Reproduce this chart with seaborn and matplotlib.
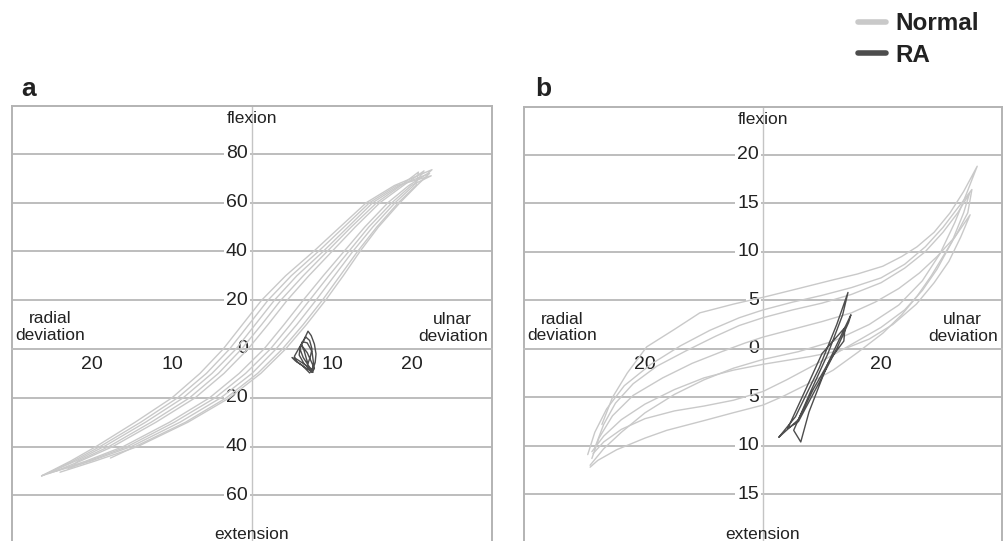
import pandas as pd
import matplotlib.pyplot as plt
import seaborn as sns
from matplotlib.lines import Line2D

# ---- panel a : flexion/extension vs radial/ulnar deviation ----
a_normal_x = [
    [-26.3, -22.7, -19.5, -14.6, -10.0, -6.5, -3.6, -1.2, 1.2, 4.2, 7.7, 11.0, 14.3, 17.8, 22.5,
     22.0, 19.6, 17.0, 14.1, 11.5, 8.9, 6.4, 4.0, 1.5, -1.6, -5.3, -10.3, -16.1, -20.8, -26.3],
    [-26.3, -22.1, -18.5, -13.3, -8.6, -5.0, -2.0, 0.4, 2.8, 5.6, 8.9, 12.0, 15.1, 18.4, 22.2,
     20.6, 18.5, 15.8, 13.5, 11.4, 9.2, 6.8, 4.2, 1.1, -2.8, -8.0, -14.3, -19.7, -24.0],
    [-24.5, -21.5, -17.4, -12.0, -7.1, -3.5, -0.5, 2.0, 4.4, 7.1, 10.0, 12.9, 16.0, 18.9, 21.5,
     20.2, 17.9, 15.1, 12.6, 10.3, 8.0, 5.6, 3.0, 0.0, -3.9, -9.0, -15.1, -20.2, -25.5],
    [-25.5, -22.4, -19.0, -13.9, -9.3, -5.7, -2.8, -0.4, 2.0, 4.9, 8.3, 11.5, 14.7, 18.1, 22.4,
     19.9, 17.5, 14.6, 12.1, 9.6, 7.2, 4.8, 2.3, -0.8, -4.6, -9.7, -15.6, -20.5, -23.0],
    [-22.5, -21.8, -17.9, -12.6, -7.8, -4.2, -1.3, 1.2, 3.6, 6.4, 9.4, 12.4, 15.6, 18.6, 20.8,
     20.5, 18.3, 15.6, 13.2, 11.0, 8.8, 6.4, 3.8, 0.7, -3.2, -8.3, -14.6, -17.7],
]
a_normal_y = [
    [-52, -46, -40, -30, -20, -10, 0, 10, 20, 30, 40, 50, 60, 67, 73.5,
     72, 67, 60, 50, 40, 30, 20, 10, 0, -10, -20, -30, -40, -46, -52],
    [-52, -46, -40, -30, -20, -10, 0, 10, 20, 30, 40, 50, 60, 67, 72,
     67, 60, 50, 40, 30, 20, 10, 0, -10, -20, -30, -40, -46, -50.5],
    [-50, -46, -40, -30, -20, -10, 0, 10, 20, 30, 40, 50, 60, 67, 73,
     67, 60, 50, 40, 30, 20, 10, 0, -10, -20, -30, -40, -46, -51],
    [-51, -46, -40, -30, -20, -10, 0, 10, 20, 30, 40, 50, 60, 67, 71,
     67, 60, 50, 40, 30, 20, 10, 0, -10, -20, -30, -40, -46, -49],
    [-48.5, -46, -40, -30, -20, -10, 0, 10, 20, 30, 40, 50, 60, 67, 72.5,
     67, 60, 50, 40, 30, 20, 10, 0, -10, -20, -30, -40, -44.7],
]
a_ra_x = [7.6, 6.6, 5.6, 5.3, 5.9, 6.6, 7.0, 7.4, 7.8, 8.0, 7.9, 7.6, 7.2, 6.3, 5.4, 5.0,
          5.6, 6.8, 7.5, 7.7, 7.5, 6.9, 6.3, 6.0, 6.4, 7.1, 7.6,
          6.5, 5.9, 6.0, 6.4, 6.7, 7.2, 7.5, 7.3, 7.0, 6.8, 6.5, 6.2, 6.9, 7.8, 7.5]
a_ra_y = [-9.5, -7.5, -5.2, -3.0, 0.5, 4.5, 7.3, 5.5, 2.0, -2.0, -5.5, -8.5, -9.8, -6.8, -4.8, -3.5,
          -4.2, -6.8, -8.5, -6.0, -1.0, 2.5, 3.0, 0.0, -3.5, -7.0, -9.5,
          -6.0, -2.5, 0.5, 3.0, 5.0, 3.5, 0.0, -3.0, -6.0, -4.0, -0.5, 1.5, -1.5, -8.0, -9.6]

# ---- panel b ----
b_normal_x = [
    [-27.3, -25.5, -23, -19.7, -15, -10.7, -5, 0.7, 6, 11.9, 16, 20.3, 23.5, 26.1, 29, 31.7, 34, 36.3,
     34.5, 32.5, 30, 27, 23, 18, 12, 6, 0, -5, -10, -15, -20, -24, -27, -29.3],
    [-29.7, -28.5, -26.5, -23.5, -19, -14, -9, -4, 0, 5, 10, 15, 20, 24, 27.5, 30.5, 33, 35.4,
     34.7, 32.8, 30.5, 28.5, 26.1, 23.5, 20.3, 16, 11.9, 8, 3.4, 0, -5.1, -10, -16.3, -20, -24.8, -28, -29.3],
    [-28.5, -27, -25, -22, -18, -13, -8, -4, 0, 5, 10, 15, 20, 24, 27.5, 30.5, 33, 35.0,
     34, 32, 29.5, 27, 24, 20, 16, 12, 8, 4, 0, -5, -10, -15, -20, -24, -27, -28.8],
    [-29.0, -27.8, -25.5, -22, -17, -12, -7, -3, 0, 5, 10, 15, 19, 23, 26.5, 29.5, 32.5, 35.1,
     33.5, 31.5, 29, 26, 22, 18, 13, 8, 4, 0, -5, -10, -15, -20, -24, -27, -29.0],
]
b_normal_y = [
    [-7.8, -5.0, -2.5, 0.2, 2.0, 3.7, 4.6, 5.4, 6.2, 7.1, 7.7, 8.5, 9.5, 10.5, 12.0, 14.0, 16.2, 18.8,
     16.0, 13.0, 9.8, 7.0, 4.5, 2.5, 0.8, -0.3, -1.1, -2.0, -3.2, -4.7, -6.6, -8.6, -10.3, -12.0],
    [-10.9, -8.6, -6.2, -3.8, -1.6, 0.3, 1.9, 3.2, 4.0, 4.8, 5.5, 6.3, 7.3, 8.7, 10.5, 12.5, 14.5, 16.4,
     14.0, 11.8, 9.5, 7.5, 5.4, 3.5, 1.6, -0.4, -2.2, -3.5, -4.9, -5.8, -6.6, -7.4, -8.4, -9.2, -10.4, -11.5, -12.2],
    [-10.2, -7.8, -5.6, -3.6, -1.8, -0.2, 1.3, 2.4, 3.2, 4.0, 4.7, 5.6, 6.8, 8.3, 10.0, 12.0, 14.0, 16.0,
     14.0, 11.0, 8.2, 6.0, 4.0, 2.2, 0.8, -0.6, -1.9, -3.2, -4.4, -5.3, -5.9, -6.4, -7.2, -8.3, -9.6, -10.8],
    [-11.3, -9.2, -6.9, -4.8, -3.0, -1.5, -0.3, 0.6, 1.2, 2.0, 2.8, 3.7, 4.8, 6.2, 7.8, 9.5, 11.5, 13.8,
     11.5, 9.0, 6.8, 4.6, 2.5, 1.0, -0.2, -0.8, -1.2, -1.6, -2.2, -3.0, -4.2, -5.7, -7.3, -9.0, -10.6],
]
b_ra_x = [2.7, 5.5, 9.5, 12.5, 14.4, 13.5, 11, 8, 5.2, 6.4, 7.8, 11, 14.9, 14.5, 12.5, 9.5, 6.0, 4.2,
          7.0, 10, 13.9, 13.7, 11.5, 8.5, 6.0, 3.8, 2.7]
b_ra_y = [-9.1, -7.0, -2.0, 2.5, 5.8, 3.5, -0.5, -4.5, -8.4, -9.6, -6.5, -1.5, 3.5, 2.7, 0, -3.5, -7.5, -8.2,
          -4.5, -0.5, 2.2, 0.8, -1.0, -4.2, -7.3, -8.5, -9.1]

a_xticks = [-20, -10, 10, 20]
a_yticks = [-60, -40, -20, 0, 20, 40, 60, 80]
b_xticks = [-20, 20]
b_yticks = [-15, -10, -5, 0, 5, 10, 15, 20]


def to_frame(xs_list, ys_list, ra_x, ra_y):
    rows = []
    for i, (xs, ys) in enumerate(zip(xs_list, ys_list)):
        for x, y in zip(xs, ys):
            rows.append({'x': x, 'y': y, 'trace': f'n{i}', 'group': 'Normal'})
    for x, y in zip(ra_x, ra_y):
        rows.append({'x': x, 'y': y, 'trace': 'ra', 'group': 'RA'})
    return pd.DataFrame(rows)


sns.set_theme(style='white')
plt.rcParams['font.family'] = ['Liberation Sans', 'DejaVu Sans']
txt = '#222222'
grid_c = '#bdbdbd'
colors = {'Normal': '#c9c9c9', 'RA': '#4d4d4d'}

fig = plt.figure(figsize=(10.07, 5.41), dpi=100)
ax_a = fig.add_axes([12 / 1007, 0, 480 / 1007, 435 / 541])
ax_b = fig.add_axes([524 / 1007, 0, 478 / 1007, 434 / 541])

panels = [
    (ax_a, to_frame(a_normal_x, a_normal_y, a_ra_x, a_ra_y), (-30, 30), (-78.7, 99.6), a_xticks, a_yticks),
    (ax_b, to_frame(b_normal_x, b_normal_y, b_ra_x, b_ra_y), (-40.5, 40.5), (-19.8, 24.9), b_xticks, b_yticks),
]

for ax, df, xl, yl, xt, yt in panels:
    sns.lineplot(data=df, x='x', y='y', units='trace', hue='group', palette=colors,
                 estimator=None, sort=False, linewidth=1.0, legend=False, ax=ax, zorder=3)
    ax.set_xlim(*xl)
    ax.set_ylim(*yl)
    ax.set_xlabel('')
    ax.set_ylabel('')

    # frame
    for s in ['top', 'left', 'right']:
        ax.spines[s].set_color('#b3b3b3')
        ax.spines[s].set_linewidth(1.4)
    ax.spines['bottom'].set_position(('data', 0))
    ax.spines['bottom'].set_color(grid_c)
    ax.spines['bottom'].set_linewidth(1.4)

    # horizontal grid + centre line
    ax.set_yticks(yt)
    ax.yaxis.grid(True, color=grid_c, linewidth=1.4)
    ax.tick_params(axis='y', left=False, labelleft=False)
    ax.axvline(0, color='#c4c4c4', linewidth=1.0, zorder=1)

    ax.set_xticks(xt)
    ax.set_xticklabels([str(abs(v)) for v in xt])
    ax.tick_params(axis='x', direction='in', length=4, width=1, color='#b3b3b3',
                   labelsize=14, labelcolor=txt, pad=5)

    for v in yt:
        ax.annotate(str(abs(v)), xy=(0, v), xytext=(-3, 0), textcoords='offset points',
                    ha='right', va='center', fontsize=14, color=txt, zorder=2.5,
                    bbox=dict(boxstyle='square,pad=0.1', fc='white', ec='none'))

    ax.text(0.5, 0.972, 'flexion', transform=ax.transAxes, ha='center', va='center',
            fontsize=12.5, color=txt)
    ax.text(0.5, 0.014, 'extension', transform=ax.transAxes, ha='center', va='center',
            fontsize=12.5, color=txt)
    ax.text(0.079, 0.492, 'radial\ndeviation', transform=ax.transAxes, ha='center', va='center',
            fontsize=12.5, color=txt, linespacing=1.15)
    ax.text(0.918, 0.490, 'ulnar\ndeviation', transform=ax.transAxes, ha='center', va='center',
            fontsize=12.5, color=txt, linespacing=1.15)

fig.text(21 / 1007, 1 - 96 / 541, 'a', fontsize=19, fontweight='bold', color=txt, va='baseline')
fig.text(535 / 1007, 1 - 96 / 541, 'b', fontsize=19, fontweight='bold', color=txt, va='baseline')

handles = [Line2D([], [], color=colors['Normal'], linewidth=4),
           Line2D([], [], color=colors['RA'], linewidth=4)]
fig.legend(handles, ['Normal', 'RA'], loc='upper left', bbox_to_anchor=(846 / 1007, 1.0),
           frameon=False, handlelength=1.15, handletextpad=0.4, labelspacing=0.35, borderpad=0,
           prop={'size': 17.5, 'weight': 'bold'}, labelcolor=txt)

fig.savefig('out.png', dpi=100)
